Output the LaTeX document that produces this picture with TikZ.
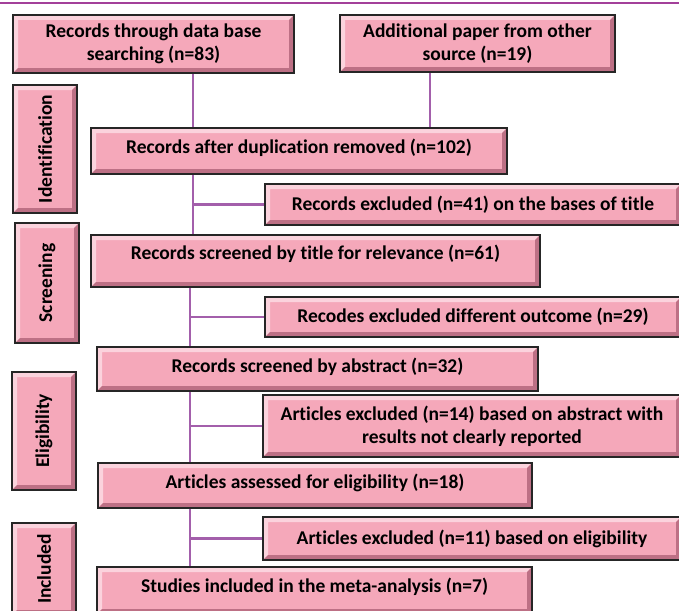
\documentclass[tikz,border=0pt]{standalone}
\usepackage{fontspec}
\setmainfont{Carlito}[Ligatures=NoCommon]
\usepackage{tikz}
\usetikzlibrary{calc}

\definecolor{facepink}{HTML}{F5A8BA}
\definecolor{hipink}{HTML}{FBD3DD}
\definecolor{lopink}{HTML}{BD7085}
\definecolor{linkpurple}{HTML}{A35FAB}
\definecolor{rulepurple}{HTML}{A3409A}
\newcommand\bevw{5pt}

\begin{document}
\begin{tikzpicture}[x=1pt, y=-1pt,
  box/.style = {shape=rectangle, draw=black!85, line width=1.6pt,
    fill=facepink, align=center, inner sep=0pt,
    font=\fontsize{19.5}{23}\selectfont\bfseries,
    path picture={
      \fill[hipink] (path picture bounding box.north west)
        -- (path picture bounding box.north east)
        -- ([shift={(-\bevw,-\bevw)}]path picture bounding box.north east)
        -- ([shift={(\bevw,-\bevw)}]path picture bounding box.north west)
        -- ([shift={(\bevw,\bevw)}]path picture bounding box.south west)
        -- (path picture bounding box.south west) -- cycle;
      \fill[lopink] (path picture bounding box.south east)
        -- (path picture bounding box.north east)
        -- ([shift={(-\bevw,-\bevw)}]path picture bounding box.north east)
        -- ([shift={(-\bevw,\bevw)}]path picture bounding box.south east)
        -- ([shift={(\bevw,\bevw)}]path picture bounding box.south west)
        -- (path picture bounding box.south west) -- cycle;}},
  phase/.style = {box, minimum width=64pt},
  link/.style = {draw=linkpurple, line width=2.2pt}]

  \useasboundingbox (0,0) rectangle (679,610);
  \clip (0,0) rectangle (679,610);
  \draw[rulepurple, line width=2.4pt] (0,3) -- (679,3);

  % sources
  \node[box, minimum width=281pt, minimum height=58pt] (src1) at (153.5,44)
    {Records through data base\\searching (n=83)};
  \node[box, minimum width=275pt, minimum height=57pt] (src2) at (477.5,43.5)
    {Additional paper from other\\source (n=19)};

  % stages
  \node[phase, minimum height=128pt] (idf) at (45,149) {\rotatebox{90}{Identification}};
  \node[phase, minimum height=120pt] (scr) at (47,283) {\rotatebox{90}{Screening}};
  \node[phase, minimum height=118pt] (elg) at (44,431) {\rotatebox{90}{Eligibility}};
  \node[phase, minimum height=92pt] (inc) at (44,569) {\rotatebox{90}{Included}};

  % main flow
  \node[box, minimum width=416pt, minimum height=46pt, text depth=10pt] (dup) at (299,151)
    {Records after duplication removed (n=102)};
  \node[box, minimum width=449pt, minimum height=52pt, text depth=18pt] (title) at (315.5,261)
    {Records screened by title for relevance (n=61)};
  \node[box, minimum width=441pt, minimum height=44pt, text depth=8pt] (abs) at (317.5,369)
    {Records screened by abstract (n=32)};
  \node[box, minimum width=434pt, minimum height=45pt, text depth=8pt] (ass) at (315,485.5)
    {Articles assessed for eligibility (n=18)};
  \node[box, minimum width=435pt, minimum height=47pt, text depth=10pt] (stu) at (314.5,590.5)
    {Studies included in the meta-analysis (n=7)};

  % exclusions
  \node[box, minimum width=416pt, minimum height=41pt] (ex41) at (473,204.5)
    {Records excluded (n=41) on the bases of title};
  \node[box, minimum width=416pt, minimum height=40pt] (ex29) at (473,317)
    {Recodes excluded different outcome (n=29)};
  \node[box, minimum width=418pt, minimum height=62pt] (ex14) at (472,426)
    {Articles excluded (n=14) based on abstract with\\results not clearly reported};
  \node[box, minimum width=418pt, minimum height=43pt] (ex11) at (472,538.5)
    {Articles excluded (n=11) based on eligibility};

  \coordinate (ta) at (193,0);
  \coordinate (tb) at (190,0);
  \coordinate (tc) at (430,0);
  \path[link] (src1.south -| ta) -- (dup.north -| ta)
    (src2.south -| tc) -- (dup.north -| tc)
    (dup.south -| ta) -- (title.north -| ta)
    (ta |- ex41.west) -- (ex41.west)
    (title.south -| tb) -- (abs.north -| tb)
    (tb |- ex29.west) -- (ex29.west)
    (abs.south -| tb) -- (ass.north -| tb)
    (tb |- ex14.west) -- (ex14.west)
    (ass.south -| tb) -- (stu.north -| tb)
    (tb |- ex11.west) -- (ex11.west);
\end{tikzpicture}
\end{document}
